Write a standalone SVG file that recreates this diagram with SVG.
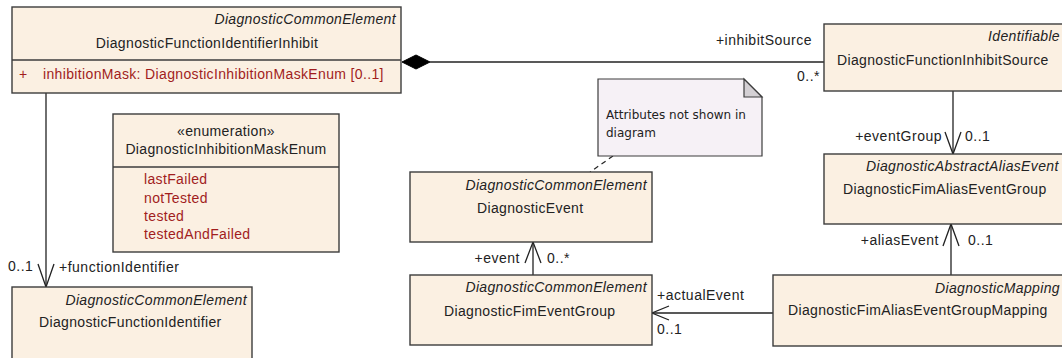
<svg xmlns="http://www.w3.org/2000/svg" width="1062" height="358" viewBox="0 0 1062 358">
<style>
.box{fill:#fbf0e2;stroke:#3c3c3c;stroke-width:1.4}
.div{stroke:#3c3c3c;stroke-width:1.4}
text{font-family:"Liberation Sans",Arial,sans-serif;font-size:14px;letter-spacing:0.35px;fill:#222}
.st{font-style:italic}
.r{text-anchor:end}
.m{text-anchor:middle}
.attr{fill:#a11d1d}
.lbl{font-size:14px;letter-spacing:0.5px}
.note{fill:#f6f1f6;stroke:#3c3c3c;stroke-width:1.2}
.fold{fill:#d4d0d4;stroke:#3c3c3c;stroke-width:1.2}
.notet{font-family:"DejaVu Sans",sans-serif;font-size:12px;letter-spacing:0}
.ln{stroke:#222;stroke-width:1.3;fill:none}
.dash{stroke:#222;stroke-width:1.2;stroke-dasharray:5,4;fill:none}
</style>
<rect width="1062" height="358" fill="#ffffff"/>
<g id="connectors">
<line class="ln" x1="430" y1="62" x2="824" y2="62"/>
<polygon points="402,62 416,55 430,62 416,69" fill="#000" stroke="#000"/>
<line class="ln" x1="46" y1="93" x2="46" y2="287"/>
<polyline class="ln" points="38,264 46,287 54,264"/>
<line class="ln" x1="953" y1="91" x2="953" y2="154"/>
<polyline class="ln" points="945,132 953,154 961,132"/>
<line class="ln" x1="951" y1="275" x2="951" y2="224"/>
<polyline class="ln" points="943,246 951,224 959,246"/>
<line class="ln" x1="533" y1="275" x2="533" y2="242"/>
<polyline class="ln" points="525,263 533,242 541,263"/>
<line class="ln" x1="773" y1="313" x2="652" y2="313"/>
<polyline class="ln" points="669,306 652,313 669,320"/>
<line class="dash" x1="613" y1="156" x2="590" y2="172"/>
<text class="lbl r" x="812" y="45">+inhibitSource</text>
<text class="lbl r" x="820" y="81">0..*</text>
<text class="lbl" x="8" y="271">0..1</text>
<text class="lbl" x="59" y="272">+functionIdentifier</text>
<text class="lbl r" x="942" y="141">+eventGroup</text>
<text class="lbl" x="965" y="141">0..1</text>
<text class="lbl r" x="939" y="245">+aliasEvent</text>
<text class="lbl" x="968" y="245">0..1</text>
<text class="lbl r" x="520" y="263">+event</text>
<text class="lbl" x="547" y="263">0..*</text>
<text class="lbl" x="657" y="300">+actualEvent</text>
<text class="lbl" x="657" y="334">0..1</text>
</g>
<g id="DiagnosticFunctionIdentifierInhibit">
<rect class="box" x="12" y="7" width="389" height="86"/>
<line class="div" x1="12" y1="60" x2="401" y2="60"/>
<text class="st r" x="396" y="24">DiagnosticCommonElement</text>
<text class="m" x="207" y="48">DiagnosticFunctionIdentifierInhibit</text>
<text class="attr" x="19" y="79">+</text>
<text class="attr" x="43" y="79">inhibitionMask: DiagnosticInhibitionMaskEnum [0..1]</text>
</g>
<g id="DiagnosticInhibitionMaskEnum">
<rect class="box" x="113" y="114" width="226" height="138"/>
<line class="div" x1="113" y1="167" x2="339" y2="167"/>
<text class="m" x="226" y="136">«enumeration»</text>
<text class="m" x="226" y="154">DiagnosticInhibitionMaskEnum</text>
<text class="attr" x="144" y="184">lastFailed</text>
<text class="attr" x="144" y="203">notTested</text>
<text class="attr" x="144" y="221">tested</text>
<text class="attr" x="144" y="239">testedAndFailed</text>
</g>
<g id="DiagnosticFunctionIdentifier">
<rect class="box" x="12" y="287" width="240" height="80"/>
<text class="st r" x="247" y="305">DiagnosticCommonElement</text>
<text x="39" y="327">DiagnosticFunctionIdentifier</text>
</g>
<g id="note">
<path class="note" d="M598,79 H744 L762,97 V156 H598 Z"/>
<path class="fold" d="M744,79 V97 H762 Z"/>
<text class="notet" x="606" y="119">Attributes not shown in</text>
<text class="notet" x="606" y="137">diagram</text>
</g>
<g id="DiagnosticEvent">
<rect class="box" x="410" y="172" width="242" height="70"/>
<text class="st r" x="647" y="190">DiagnosticCommonElement</text>
<text x="477" y="213">DiagnosticEvent</text>
</g>
<g id="DiagnosticFimEventGroup">
<rect class="box" x="410" y="275" width="242" height="70"/>
<text class="st r" x="647" y="292">DiagnosticCommonElement</text>
<text x="444" y="316">DiagnosticFimEventGroup</text>
</g>
<g id="DiagnosticFunctionInhibitSource">
<rect class="box" x="824" y="24" width="250" height="67"/>
<text class="st r" x="1060" y="41">Identifiable</text>
<text x="837" y="65">DiagnosticFunctionInhibitSource</text>
</g>
<g id="DiagnosticFimAliasEventGroup">
<rect class="box" x="824" y="154" width="250" height="70"/>
<text class="st" x="866" y="171">DiagnosticAbstractAliasEvent</text>
<text x="843" y="194">DiagnosticFimAliasEventGroup</text>
</g>
<g id="DiagnosticFimAliasEventGroupMapping">
<rect class="box" x="773" y="275" width="300" height="71"/>
<text class="st r" x="1060" y="293">DiagnosticMapping</text>
<text x="788" y="315">DiagnosticFimAliasEventGroupMapping</text>
</g>
</svg>
